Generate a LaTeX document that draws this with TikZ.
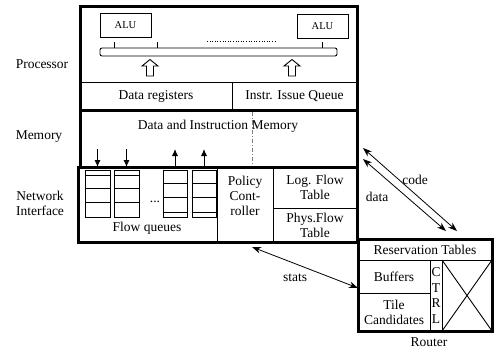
\documentclass[tikz,border=0pt]{standalone}
\usepackage{fontspec}
\setmainfont{Liberation Serif}
\newfontfamily\diagfont{Liberation Serif}
\usetikzlibrary{arrows.meta}

\tikzset{
  frame/.style={draw, line width=3pt, anchor=north west, inner sep=0pt, outer sep=0pt},
  cell/.style={draw, line width=0.9pt, anchor=north west, inner sep=0pt, outer sep=0pt},
  lbl/.style={inner sep=0pt, align=center, font=\diagfont\fontsize{13.5}{15}\selectfont},
  flow/.style={-{Latex[length=7pt,width=6pt]}, line width=0.9pt},
  link/.style={{Stealth[length=9pt,width=6.5pt]}-{Stealth[length=9pt,width=6.5pt]}, line width=0.8pt}
}

\begin{document}
\begin{tikzpicture}[x=1pt,y=-1pt]
                \useasboundingbox (0,0) rectangle (494,349);

                % Drawing processor contents
                \node[cell, minimum width=51pt, minimum height=24pt, font=\diagfont\fontsize{10.5}{12}\selectfont] (alu1) at (100,13) {ALU};%
                \node[cell, minimum width=51pt, minimum height=24pt, font=\diagfont\fontsize{10.5}{12}\selectfont] (alu2) at (297,14) {ALU};%
                \node[cell, rounded corners=2pt, minimum width=237pt, minimum height=8pt] (bus) at (100,48) {};%
                \foreach \x in {114,157,322}
                  \draw [line width=0.9pt] (\x,42) -- (\x,48);%
                \draw [line width=1pt, dash pattern=on 1pt off 1.6pt] (207,41) -- (276,41);%
                \foreach \x in {150,292}
                  \draw [line width=0.9pt] (\x-3.5,76) -- (\x-3.5,66) -- (\x-8,66) -- (\x,59.5)
                        -- (\x+8,66) -- (\x+3.5,66) -- (\x+3.5,76) -- cycle;%
                \node[cell, lbl, minimum width=152pt, minimum height=28pt] (regs) at (80,82) {Data registers};%
                \node[cell, lbl, minimum width=125pt, minimum height=28pt] (iq) at (232,82) {Instr. Issue Queue};%

                % Drawing memory contents
                \node[lbl] (memtext) at (218,126) {Data and Instruction Memory};%
                \draw [gray, line width=1pt, dash pattern=on 4pt off 2pt on 1pt off 2pt] (252,112) -- (252,165);%

                % Drawing flow queues
                \node[cell, minimum width=25pt, minimum height=47pt] (q1) at (85,170) {};%
                \node[cell, minimum width=25pt, minimum height=47pt] (q2) at (114,170) {};%
                \node[cell, minimum width=24pt, minimum height=47pt] (q3) at (163,170) {};%
                \node[cell, minimum width=24pt, minimum height=47pt] (q4) at (192,170) {};%
                \foreach \q in {q1,q2}
                  \foreach \d in {5,18,32}
                    \draw [line width=0.9pt] ([yshift=-\d pt]\q.north west) -- ([yshift=-\d pt]\q.north east);%
                \foreach \q in {q3,q4}
                  \foreach \d in {13,27,42}
                    \draw [line width=0.9pt] ([yshift=-\d pt]\q.north west) -- ([yshift=-\d pt]\q.north east);%
                \node[lbl] (dots) at (155,202) {...};%
                \node[lbl] (fqtext) at (147,228) {Flow queues};%

                % Drawing arrows between memory and queues
                \draw [flow] ([yshift=21pt]q1.north) -- ([yshift=3pt]q1.north);%
                \draw [flow] ([yshift=21pt]q2.north) -- ([yshift=3pt]q2.north);%
                \draw [flow] ([yshift=3pt]q3.north) -- ([yshift=21pt]q3.north);%
                \draw [flow] ([yshift=3pt]q4.north) -- ([yshift=21pt]q4.north);%

                % Drawing controller and flow tables
                \node[cell, minimum width=56pt, minimum height=75pt] (pc) at (217,167) {};%
                \node[lbl] (pctext) at (245,196) {Policy\\Cont-\\roller};%
                \node[cell, lbl, minimum width=84pt, minimum height=41pt] (lft) at (273,167) {Log. Flow\\Table};%
                \node[cell, lbl, minimum width=84pt, minimum height=34pt] (pft) at (273,208) {Phys.Flow\\Table};%

                % Drawing router contents
                \node[cell, lbl, minimum width=134pt, minimum height=21pt] (rt) at (358,239) {Reservation Tables};%
                \node[cell, lbl, minimum width=72pt, minimum height=33pt] (buf) at (358,260) {Buffers};%
                \node[cell, lbl, minimum width=72pt, minimum height=38pt] (tiles) at (358,293) {Tile\\Candidates};%
                \node[cell, lbl, minimum width=12pt, minimum height=71pt, font=\diagfont\fontsize{13.5}{15.5}\selectfont] (ctrl) at (430,260) {C\\T\\R\\L};%
                \node[cell, minimum width=50pt, minimum height=71pt] (xbar) at (442,260) {};%
                \draw [line width=0.9pt] (xbar.north west) -- (xbar.south east);%
                \draw [line width=0.9pt] (xbar.north east) -- (xbar.south west);%

                % Drawing outer blocks
                \node[frame, minimum width=277pt, minimum height=104pt] (proc) at (80,6) {};%
                \node[frame, minimum width=277pt, minimum height=57pt] (mem) at (80,110) {};%
                \node[frame, minimum width=279pt, minimum height=75pt] (ni) at (78,167) {};%
                \node[frame, minimum width=134pt, minimum height=92pt] (router) at (358,239) {};%

                % Marking block names
                \node[lbl] (proclbl) at (42,64) {Processor};%
                \node[lbl] (memlbl) at (39,137) {Memory};%
                \node[lbl] (nilbl) at (40,203) {Network\\Interface};%
                \node[lbl] (routerlbl) at (429,342) {Router};%

                % Drawing links to the router
                \coordinate (codemem) at (363,148);%
                \coordinate (coderouter) at (457,231);%
                \coordinate (datamem) at (363,159);%
                \coordinate (datarouter) at (446,231);%
                \coordinate (statsni) at (252,247);%
                \draw [link] (codemem) -- (coderouter);%
                \draw [link] (datamem) -- (datarouter);%
                \draw [link] (statsni) -- ([yshift=-3pt]router.west);%
                \node[lbl] (codetext) at (415,180) {code};%
                \node[lbl] (datatext) at (377,197) {data};%
                \node[lbl] (statstext) at (295,278) {stats};%
\end{tikzpicture}
\end{document}
